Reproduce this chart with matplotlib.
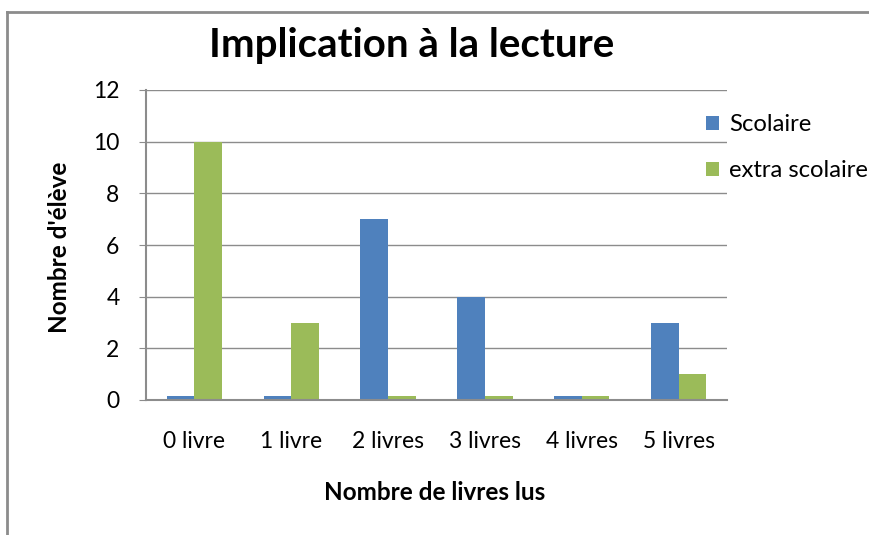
import matplotlib.pyplot as plt
import numpy as np
from matplotlib.lines import Line2D

categories = ["0 livre", "1 livre", "2 livres", "3 livres", "4 livres", "5 livres"]
scolaire = [0.15, 0.15, 7, 4, 0.15, 3]
extra_scolaire = [10, 3, 0.15, 0.15, 0.15, 1]
series_names = ["Scolaire", "extra scolaire"]

plt.rcParams["font.family"] = ["Lato", "DejaVu Sans"]

fig = plt.figure(figsize=(8.7, 5.35), dpi=100)
ax = fig.add_axes([146 / 870, 1 - 400 / 535, (727 - 146) / 870, 310 / 535])

# frame of the chart area
fig.add_artist(Line2D([7 / 870, 1], [1 - 12 / 535] * 2, color="#8c8c8c", lw=2))
fig.add_artist(Line2D([7 / 870] * 2, [0, 1 - 12 / 535], color="#8c8c8c", lw=2))

x = np.arange(len(categories))
width = 1 / 3.5
ax.bar(x - width / 2, scolaire, width, color="#4F81BD", label=series_names[0])
ax.bar(x + width / 2, extra_scolaire, width, color="#9BBB59", label=series_names[1])

ax.set_xlim(-0.5, len(categories) - 0.5)
ax.set_ylim(0, 12)
ax.set_yticks(range(0, 13, 2))
ax.set_xticks(x)
ax.set_xticklabels(categories, fontsize=16.5)
ax.tick_params(axis="y", labelsize=16.5, length=5, color="#8c8c8c", pad=14)
ax.tick_params(axis="x", length=0, pad=22)
ax.yaxis.grid(True, color="#8c8c8c", lw=1)
ax.set_axisbelow(True)
for s in ["top", "right"]:
    ax.spines[s].set_visible(False)
for s in ["left", "bottom"]:
    ax.spines[s].set_color("#8c8c8c")
    ax.spines[s].set_linewidth(1.5)

fig.text(412 / 870, 1 - 45 / 535, "Implication à la lecture", fontsize=29,
         fontweight="bold", ha="center", va="center")
fig.text(60 / 870, 1 - 247 / 535, "Nombre d'élève", fontsize=17.5,
         fontweight="bold", ha="center", va="center", rotation=90)
fig.text(435 / 870, 1 - 493 / 535, "Nombre de livres lus", fontsize=17.5,
         fontweight="bold", ha="center", va="center")

leg = ax.legend(loc="upper left", bbox_to_anchor=(0.964, 0.922), frameon=False,
                fontsize=17.2, handlelength=0.55, handleheight=0.55,
                handletextpad=0.4, labelspacing=1.05, borderpad=0,
                borderaxespad=0)

fig.savefig("out.png", dpi=100)
